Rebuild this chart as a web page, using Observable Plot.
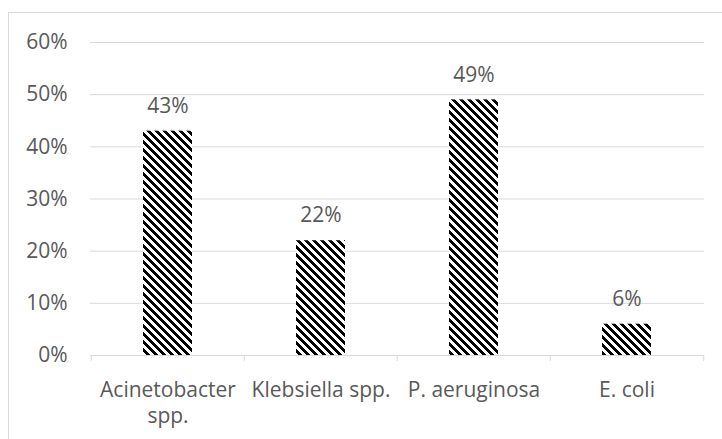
<!DOCTYPE html>
<html><head><meta charset="utf-8">
<script src="https://cdn.jsdelivr.net/npm/d3@7"></script>
<script src="https://cdn.jsdelivr.net/npm/@observablehq/plot@0.6"></script>
<style>
html,body{margin:0;padding:0;background:#fff;overflow:hidden;}
#wrap{position:relative;width:722px;height:439px;overflow:hidden;}
#frame{position:absolute;left:8px;top:12px;width:780px;height:500px;border:1px solid #d9d9d9;box-sizing:border-box;pointer-events:none;}
</style></head><body><div id="wrap"><div id="chart"></div><div id="frame"></div></div>
<script>
const categories = ["Acinetobacter\nspp.", "Klebsiella spp.", "P. aeruginosa", "E. coli"];
const values = [0.43, 0.22, 0.49, 0.06];
const yTicks = [0, 0.1, 0.2, 0.3, 0.4, 0.5, 0.6];

const data = categories.map((c, i) => ({category: c, value: values[i]}));
const W = 722, H = 439, mL = 90, mR = 18, mT = 42, mB = 84;
const bw = (W - mL - mR) / categories.length;
const pct = d3.format(".0%");
const textColor = "#595959";
const gridColor = "#d9d9d9";

const svg = Plot.plot({
  width: W, height: H,
  marginLeft: mL, marginRight: mR, marginTop: mT, marginBottom: mB,
  style: {fontFamily: "'Open Sans', sans-serif", fontSize: "21px", color: textColor, background: "transparent"},
  x: {domain: categories, padding: 0, axis: null},
  y: {domain: [0, 0.6], ticks: yTicks, tickFormat: pct, tickSize: 0, tickPadding: 23, label: null},
  marks: [
    Plot.ruleY(yTicks, {stroke: gridColor, strokeWidth: 1}),
    Plot.barY(data, {x: "category", y: "value", fill: "url(#hatch)", insetLeft: 52, insetRight: 52}),
    Plot.ruleX(categories, {x: d => d, y1: 0, y2: 0, insetBottom: -6, dx: -bw / 2, stroke: gridColor}),
    Plot.ruleX(categories.slice(-1), {x: d => d, y1: 0, y2: 0, insetBottom: -6, dx: bw / 2, stroke: gridColor}),
    Plot.text(data, {x: "category", y: "value", text: d => pct(d.value), dy: -25, fill: textColor}),
    Plot.text(data, {x: "category", text: "category", frameAnchor: "bottom", lineAnchor: "top", dy: 23, lineHeight: 1.25, fill: textColor})
  ]
});

// hatch pattern (wide downward diagonal)
const ns = "http://www.w3.org/2000/svg";
const defs = document.createElementNS(ns, "defs");
const pat = document.createElementNS(ns, "pattern");
pat.setAttribute("id", "hatch");
pat.setAttribute("patternUnits", "userSpaceOnUse");
pat.setAttribute("width", 8);
pat.setAttribute("height", 8);
const bg = document.createElementNS(ns, "rect");
bg.setAttribute("width", 8); bg.setAttribute("height", 8); bg.setAttribute("fill", "#fff");
pat.appendChild(bg);
let dpath = "";
for (let r = 0; r < 8; r++) for (let k = 0; k < 4; k++) {
  const c = (r + k) % 8;
  dpath += `M${c},${r}h1v1h-1z`;
}
const p = document.createElementNS(ns, "path");
p.setAttribute("d", dpath);
p.setAttribute("fill", "#000");
p.setAttribute("shape-rendering", "crispEdges");
pat.appendChild(p);
defs.appendChild(pat);
svg.insertBefore(defs, svg.firstChild);

document.getElementById("chart").appendChild(svg);
</script>
</body></html>
